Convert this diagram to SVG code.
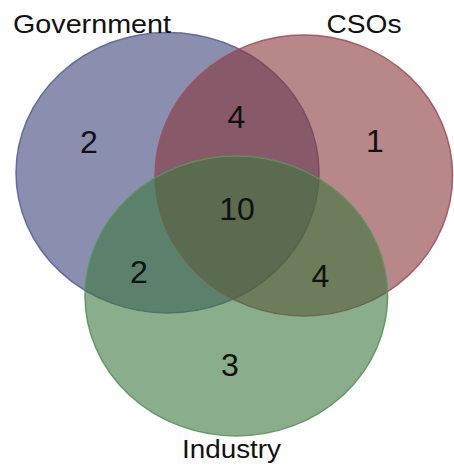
<svg xmlns="http://www.w3.org/2000/svg" width="454" height="467" viewBox="0 0 454 467">
  <style>
    .set { stroke-width: 1.5; }
    .lbl { font-family: "Liberation Sans", Arial, sans-serif; font-size: 26px; fill: #111; }
    .num { font-family: "Liberation Sans", Arial, sans-serif; font-size: 32px; fill: #111; text-anchor: middle; }
  </style>
  <rect width="454" height="467" fill="#ffffff"/>
  <g id="government">
    <ellipse class="set" cx="167.5" cy="172.7" rx="151.5" ry="140.3" fill="rgb(60,68,123)" fill-opacity="0.6" stroke="#5b6396" stroke-opacity="0.9"/>
  </g>
  <g id="csos">
    <ellipse class="set" cx="303.8" cy="175.5" rx="148.8" ry="140.5" fill="rgb(135,55,58)" fill-opacity="0.6" stroke="#a0505f" stroke-opacity="0.9"/>
  </g>
  <g id="industry">
    <ellipse class="set" cx="236.3" cy="296" rx="151.3" ry="140" fill="rgb(60,118,62)" fill-opacity="0.6" stroke="#5a935c" stroke-opacity="0.9"/>
  </g>
  <g id="labels">
    <text class="lbl" x="13" y="32.5" textLength="158" lengthAdjust="spacingAndGlyphs">Government</text>
    <text class="lbl" x="326.5" y="32.5" textLength="75" lengthAdjust="spacingAndGlyphs">CSOs</text>
    <text class="lbl" x="182" y="458" textLength="99" lengthAdjust="spacingAndGlyphs">Industry</text>
  </g>
  <g id="counts">
    <text class="num" x="89" y="153">2</text>
    <text class="num" x="236.5" y="128">4</text>
    <text class="num" x="375" y="152">1</text>
    <text class="num" x="237" y="220">10</text>
    <text class="num" x="139" y="283">2</text>
    <text class="num" x="320.5" y="287">4</text>
    <text class="num" x="230" y="376">3</text>
  </g>
</svg>
